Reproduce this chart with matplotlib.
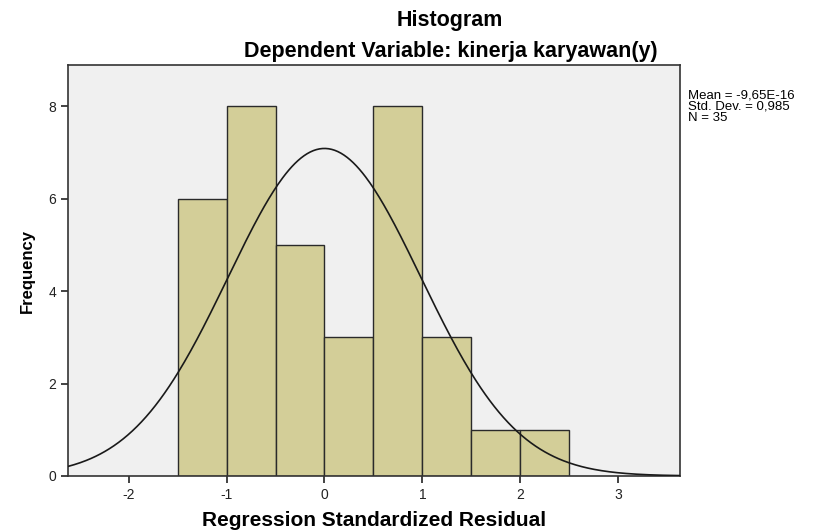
import numpy as np
import matplotlib.pyplot as plt

plt.rcParams['font.family'] = ['Liberation Sans', 'DejaVu Sans']
plt.rcParams['axes.unicode_minus'] = False

# histogram data
bin_edges = [-1.5, -1.0, -0.5, 0.0, 0.5, 1.0, 1.5, 2.0, 2.5]
counts = [6, 8, 5, 3, 8, 3, 1, 1]
mean = -9.65e-16
std_dev = 0.985
n = 35

fig = plt.figure(figsize=(8.18, 5.30), dpi=100)
ax = fig.add_axes([0.0831, 0.102, 0.748, 0.775])
ax.set_facecolor('#f0f0f0')

lefts = np.array(bin_edges[:-1])
widths = np.diff(bin_edges)
ax.bar(lefts, counts, width=widths, align='edge', color='#d3ce98',
       edgecolor='#2a2a2a', linewidth=1.0, zorder=2)

# normal curve overlay
x = np.linspace(-2.62, 3.63, 400)
bw = widths[0]
y = n * bw / (std_dev * np.sqrt(2 * np.pi)) * np.exp(-0.5 * ((x - mean) / std_dev) ** 2)
ax.plot(x, y, color='#1a1a1a', linewidth=1.2, zorder=3)

ax.set_xlim(-2.62, 3.63)
ax.set_ylim(0, 8.89)
ax.set_xticks([-2, -1, 0, 1, 2, 3])
ax.set_yticks([0, 2, 4, 6, 8])
ax.tick_params(direction='out', length=5, width=1.2, labelsize=10, colors='#222222')
for s in ax.spines.values():
    s.set_color('#333333')
    s.set_linewidth(1.2)

ax.set_xlabel('Regression Standardized Residual', fontsize=15, fontweight='bold', labelpad=7)
ax.set_ylabel('Frequency', fontsize=12, fontweight='bold', labelpad=10)

fig.text(0.55, 0.962, 'Histogram', ha='center', va='center', fontsize=15.5, fontweight='bold')
fig.text(0.551, 0.902, 'Dependent Variable: kinerja karyawan(y)', ha='center', va='center',
         fontsize=15.5, fontweight='bold')

fig.text(0.841, 0.832, 'Mean = -9,65E-16\nStd. Dev. = 0,985\nN = 35', ha='left', va='top',
         fontsize=9.5, linespacing=0.92)

fig.savefig('out.png', dpi=100)
